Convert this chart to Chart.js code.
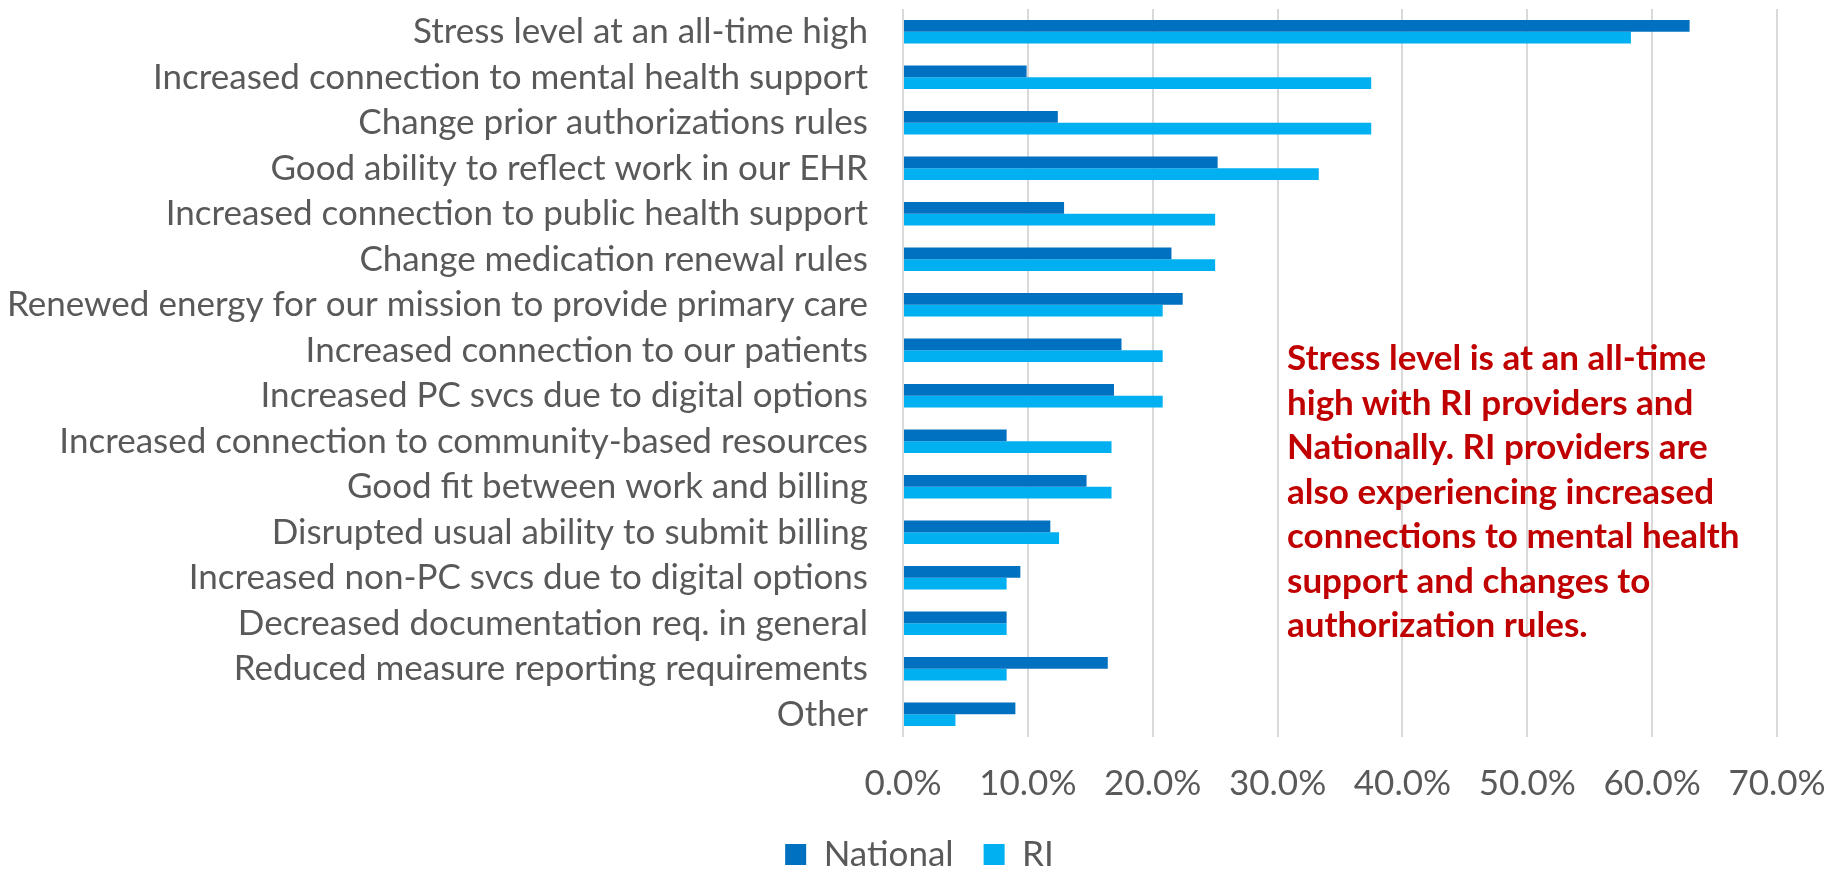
<!DOCTYPE html>
<html>
<head>
<meta charset="utf-8">
<script src="https://cdn.jsdelivr.net/npm/chart.js@4"></script>
<style>
  html, body { margin: 0; padding: 0; background: #fff; }
  #wrap { position: relative; width: 1839px; height: 869px; }
  #note {
    position: absolute; left: 1287px; top: 334px; width: 540px;
    font-family: Lato, sans-serif; font-weight: bold; font-size: 35px;
    line-height: 44.5px; color: #c00000; white-space: nowrap;
  }
</style>
</head>
<body>
<div id="wrap">
  <canvas id="chart" width="1839" height="869"></canvas>
  <div id="note">Stress level is at an all-time<br>high with RI providers and<br>Nationally. RI providers are<br>also experiencing increased<br>connections to mental health<br>support and changes to<br>authorization rules.</div>
</div>
<script>
const categories = [
  "Stress level at an all-time high",
  "Increased connection to mental health support",
  "Change prior authorizations rules",
  "Good ability to reflect work in our EHR",
  "Increased connection to public health support",
  "Change medication renewal rules",
  "Renewed energy for our mission to provide primary care",
  "Increased connection to our patients",
  "Increased PC svcs due to digital options",
  "Increased connection to community-based resources",
  "Good fit between work and billing",
  "Disrupted usual ability to submit billing",
  "Increased non-PC svcs due to digital options",
  "Decreased documentation req. in general",
  "Reduced measure reporting requirements",
  "Other"
];
const nationalValues = [63.0, 9.9, 12.4, 25.2, 12.9, 21.5, 22.4, 17.5, 16.9, 8.3, 14.7, 11.8, 9.4, 8.3, 16.4, 9.0];
const riValues = [58.3, 37.5, 37.5, 33.3, 25.0, 25.0, 20.8, 20.8, 20.8, 16.7, 16.7, 12.5, 8.3, 8.3, 8.3, 4.2];
const xTicks = [0, 10, 20, 30, 40, 50, 60, 70];

const font = { family: "Lato, sans-serif", size: 35 };
const grey = "#595959";

new Chart(document.getElementById("chart"), {
  type: "bar",
  data: {
    labels: categories,
    datasets: [
      { label: "National", data: nationalValues, backgroundColor: "#0070c0" },
      { label: "RI", data: riValues, backgroundColor: "#00b0f0" }
    ]
  },
  options: {
    indexAxis: "y",
    responsive: false,
    animation: false,
    // bottom is slightly negative so the legend row sits low like the original
    layout: { padding: { top: 9, right: 0, bottom: -13, left: 0 } },
    datasets: { bar: { categoryPercentage: 0.52, barPercentage: 1.0 } },
    plugins: {
      tooltip: { enabled: false },
      legend: {
        position: "bottom",
        labels: {
          font: font, color: grey, boxWidth: 21, boxHeight: 21, padding: 30
        }
      }
    },
    scales: {
      x: {
        min: 0, max: 70,
        afterBuildTicks: axis => { axis.ticks = xTicks.map(v => ({ value: v })); },
        afterFit: axis => {
          axis.height = 70;
          axis.paddingLeft = 0;
          axis.paddingRight = 62;
        },
        grid: { color: "#d9d9d9", lineWidth: 2, drawTicks: false },
        border: { display: false },
        ticks: {
          font: font, color: grey, padding: 26, maxRotation: 0,
          callback: v => v.toFixed(1) + "%"
        }
      },
      y: {
        afterFit: axis => {
          axis.width = 903;
          axis.paddingTop = 0;
          axis.paddingBottom = 0;
        },
        grid: { display: false, drawTicks: false },
        border: { display: false },
        ticks: { font: font, color: grey, padding: 35, autoSkip: false }
      }
    }
  }
});
</script>
</body>
</html>
